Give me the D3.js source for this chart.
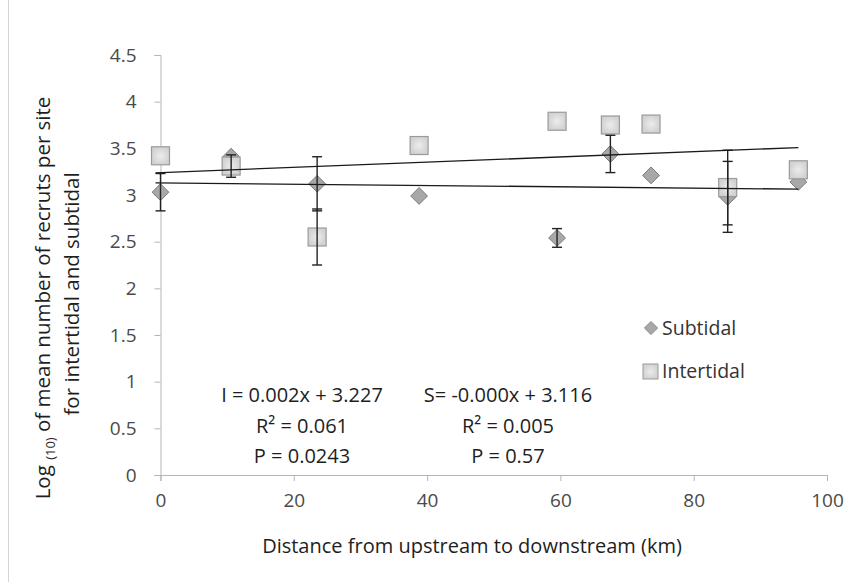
<!DOCTYPE html>
<html>
<head>
<meta charset="utf-8">
<script src="https://cdn.jsdelivr.net/npm/d3@7"></script>
<style>
    body { margin: 0; background: #fff; }
    svg { display: block; font-family: "Open Sans", sans-serif; }
</style>
</head>
<body>
<div id="chart"></div>
<script>
    // values
    var distances = [0, 10.6, 23.5, 38.8, 59.5, 67.5, 73.6, 85.1, 95.7];
    var intertidal = [3.42, 3.31, 2.55, 3.53, 3.79, 3.75, 3.76, 3.08, 3.27];
    var intertidalErr = [0, 0.12, 0.3, 0, 0, 0, 0, 0.4, 0];
    var subtidal = [3.03, 3.41, 3.12, 2.99, 2.54, 3.44, 3.21, 2.98, 3.14];
    var subtidalErr = [0.2, 0, 0.29, 0, 0.1, 0.2, 0, 0.38, 0];
    // trend lines: [intercept, slope]
    var intertidalTrend = [3.24, 0.0028];
    var subtidalTrend = [3.13, -0.0007];
    var xTicks = [0, 20, 40, 60, 80, 100];
    var yTicks = [0, 0.5, 1, 1.5, 2, 2.5, 3, 3.5, 4, 4.5];
    var intertidalStats = ['I = 0.002x + 3.227', 'R\u00B2 = 0.061', 'P = 0.0243'];
    var subtidalStats = ['S= -0.000x + 3.116', 'R\u00B2 = 0.005', 'P  = 0.57'];

    var width = 854, height = 582;
    var margin = {top: 55, right: 27, bottom: 107, left: 160.5};

    var svg = d3.select('#chart').append('svg')
        .attr('width', width)
        .attr('height', height);

    svg.append('rect').attr('width', width).attr('height', height).attr('fill', '#fff');

    // faint frame line at the left edge
    svg.append('line')
        .attr('x1', 8.5).attr('x2', 8.5)
        .attr('y1', 0).attr('y2', height)
        .attr('stroke', '#d4d4d4').attr('stroke-width', 1);

    var x = d3.scaleLinear().domain([0, 100]).range([margin.left, width - margin.right]);
    var y = d3.scaleLinear().domain([0, 4.5]).range([height - margin.bottom, margin.top]);

    var defs = svg.append('defs');
    var grad = defs.append('radialGradient').attr('id', 'sqFill');
    grad.append('stop').attr('offset', '0%').attr('stop-color', '#ececec');
    grad.append('stop').attr('offset', '100%').attr('stop-color', '#d2d2d2');

    /**
     * axes
     */
    var xAxis = svg.append('g')
        .attr('transform', 'translate(0,' + y(0) + ')')
        .call(d3.axisBottom(x).tickValues(xTicks).tickSize(6).tickPadding(13).tickFormat(d3.format('d')));

    var yAxis = svg.append('g')
        .attr('transform', 'translate(' + x(0) + ',0)')
        .call(d3.axisLeft(y).tickValues(yTicks).tickSize(6).tickPadding(18).tickFormat(function (d) { return String(d); }));

    [xAxis, yAxis].forEach(function (axis) {
        axis.select('.domain').attr('stroke', '#b5b5b5');
        axis.selectAll('.tick line').attr('stroke', '#b5b5b5');
        axis.selectAll('.tick text')
            .attr('fill', '#4a4a4a')
            .style('font-size', '19px')
            .style('font-family', '"Open Sans", sans-serif');
    });

    /**
     * markers
     */
    var subPoints = distances.map(function (d, i) { return {x: d, y: subtidal[i], err: subtidalErr[i]}; });
    var intPoints = distances.map(function (d, i) { return {x: d, y: intertidal[i], err: intertidalErr[i]}; });

    var diamond = d3.symbol().type(d3.symbolDiamond2).size(180);

    svg.append('g').selectAll('path')
        .data(subPoints)
        .enter().append('path')
        .attr('d', diamond)
        .attr('transform', function (d) { return 'translate(' + x(d.x) + ',' + y(d.y) + ')'; })
        .attr('fill', '#a8a8a8')
        .attr('stroke', '#7a7a7a')
        .attr('stroke-width', 1);

    var sq = 18;
    svg.append('g').selectAll('rect')
        .data(intPoints)
        .enter().append('rect')
        .attr('x', function (d) { return x(d.x) - sq / 2; })
        .attr('y', function (d) { return y(d.y) - sq / 2; })
        .attr('width', sq)
        .attr('height', sq)
        .attr('fill', 'url(#sqFill)')
        .attr('stroke', '#9a9a9a')
        .attr('stroke-width', 1.2);

    /**
     * error bars
     */
    var errPoints = subPoints.concat(intPoints).filter(function (d) { return d.err > 0; });
    var eb = svg.append('g').attr('stroke', '#222').attr('stroke-width', 1.4);
    errPoints.forEach(function (d) {
        var cx = x(d.x);
        eb.append('line')
            .attr('x1', cx).attr('x2', cx)
            .attr('y1', y(d.y - d.err)).attr('y2', y(d.y + d.err));
        [d.y - d.err, d.y + d.err].forEach(function (v) {
            eb.append('line')
                .attr('x1', cx - 5).attr('x2', cx + 5)
                .attr('y1', y(v)).attr('y2', y(v));
        });
    });

    /**
     * trend lines
     */
    var xExtent = d3.extent(distances);
    [intertidalTrend, subtidalTrend].forEach(function (t) {
        svg.append('line')
            .attr('x1', x(xExtent[0]) - 5).attr('x2', x(xExtent[1]))
            .attr('y1', y(t[0] + t[1] * (xExtent[0] - 0.75)))
            .attr('y2', y(t[0] + t[1] * xExtent[1]))
            .attr('stroke', '#1a1a1a')
            .attr('stroke-width', 1.3);
    });

    /**
     * regression statistics
     */
    function statBlock(lines, cx) {
        svg.append('g').selectAll('text')
            .data(lines)
            .enter().append('text')
            .attr('x', cx)
            .attr('y', function (d, i) { return 402 + i * 30.5; })
            .attr('text-anchor', 'middle')
            .attr('fill', '#1e1e1e')
            .style('font-size', '20px')
            .text(function (d) { return d; });
    }
    statBlock(intertidalStats, 302);
    statBlock(subtidalStats, 508);

    /**
     * legend
     */
    var legend = svg.append('g').style('font-size', '19.5px');
    legend.append('path')
        .attr('d', d3.symbol().type(d3.symbolDiamond2).size(110))
        .attr('transform', 'translate(651,328)')
        .attr('fill', '#a8a8a8').attr('stroke', '#8a8a8a');
    legend.append('text').attr('x', 662).attr('y', 335).attr('fill', '#333').text('Subtidal');
    legend.append('rect')
        .attr('x', 643).attr('y', 364).attr('width', 15).attr('height', 15)
        .attr('fill', 'url(#sqFill)').attr('stroke', '#9a9a9a');
    legend.append('text').attr('x', 662).attr('y', 378).attr('fill', '#333').text('Intertidal');

    /**
     * axis titles
     */
    svg.append('text')
        .attr('x', 472).attr('y', 553)
        .attr('text-anchor', 'middle')
        .attr('fill', '#1e1e1e')
        .style('font-size', '20px')
        .text('Distance from upstream to downstream (km)');

    var yTitle = svg.append('text')
        .attr('transform', 'translate(50,298) rotate(-90)')
        .attr('text-anchor', 'middle')
        .attr('fill', '#1e1e1e')
        .style('font-size', '20.5px');
    yTitle.append('tspan').text('Log ');
    yTitle.append('tspan').attr('dy', 5).style('font-size', '13px').text('(10)');
    yTitle.append('tspan').attr('dy', -5).text(' of mean number of recruts per site');

    svg.append('text')
        .attr('transform', 'translate(79,294) rotate(-90)')
        .attr('text-anchor', 'middle')
        .attr('fill', '#1e1e1e')
        .style('font-size', '20.5px')
        .text('for intertidal and subtidal');
</script>
</body>
</html>
